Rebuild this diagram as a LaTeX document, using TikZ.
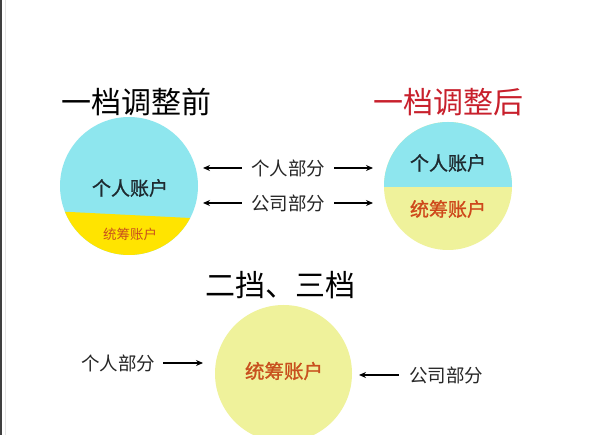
\documentclass[tikz,border=0pt]{standalone}
\usepackage{fontspec}
\setmainfont{Noto Sans CJK SC}
\newfontfamily\accfont[FakeBold=1.2]{Noto Sans CJK SC}
\usetikzlibrary{arrows.meta}
\definecolor{cyanfill}{HTML}{8EE6EE}
\definecolor{brightyel}{HTML}{FFE400}
\definecolor{paleyel}{HTML}{EFF29B}
\definecolor{titlered}{HTML}{C8202C}
\definecolor{accorange}{HTML}{C8501E}
\definecolor{darktext}{HTML}{1E2A30}
\tikzset{
  title/.style={font=\fontsize{30}{30}\selectfont, inner sep=0pt},
  label/.style={font=\fontsize{18.5}{19}\selectfont, inner sep=0pt, text=black!85},
  acc/.style={font=\accfont\fontsize{19}{19}\selectfont, inner sep=0pt},
  arr/.style={line width=1.3pt, -{Stealth[length=7pt,width=6pt]}},
}
\begin{document}
\begin{tikzpicture}[x=1pt,y=-1pt]
\useasboundingbox (0,0) rectangle (600,435);
\fill[white] (0,0) rectangle (600,435);
\fill[black!75] (0,0) rectangle (1.6,435);
\draw[black!10, line width=0.6pt] (5.5,0) -- (5.5,435);

% titles
\node[title] (t1) at (136,102) {一档调整前};
\node[title, text=titlered] (t2) at (448,102) {一档调整后};
\node[title] (t3) at (280,285) {二挡、三档};

% left circle
\fill[cyanfill] (129,186) circle (69);
\begin{scope}
  \clip (129,186) circle (69);
  \fill[brightyel] (50,211) -- (210,219) -- (210,260) -- (50,260) -- cycle;
\end{scope}
\node[acc, text=darktext] (la) at (130,188) {个人账户};
\node[font=\fontsize{13.5}{14}\selectfont, inner sep=0pt, text=accorange] (lb) at (130,234) {统筹账户};

% right circle
\fill[paleyel] (448,186) circle (64);
\begin{scope}
  \clip (448,186) circle (64);
  \fill[cyanfill] (380,115) rectangle (520,187);
\end{scope}
\node[acc, text=darktext] (ra) at (448,163) {个人账户};
\node[acc, text=accorange!90!red] (rb) at (448,209) {统筹账户};

% middle labels and arrows
\node[label] (m1) at (288,168) {个人部分};
\node[label] (m2) at (288,203) {公司部分};
\coordinate (m1l) at (203,168);
\coordinate (m1r) at (373,168);
\coordinate (m2l) at (203,203);
\coordinate (m2r) at (373,203);
\draw[arr] ([xshift=-9pt]m1.west) -- (m1l);
\draw[arr] ([xshift=9pt]m1.east) -- (m1r);
\draw[arr] ([xshift=-9pt]m2.west) -- (m2l);
\draw[arr] ([xshift=9pt]m2.east) -- (m2r);

% bottom circle
\fill[paleyel] (283.5,373.5) circle (68.5);
\node[acc, font=\accfont\fontsize{19.5}{20}\selectfont, text=accorange] (bc) at (284,371) {统筹账户};

\node[label] (b1) at (118,363) {个人部分};
\node[label] (b2) at (446,375) {公司部分};
\coordinate (b1e) at (203,363);
\coordinate (b2e) at (359,375);
\draw[arr] ([xshift=8pt]b1.east) -- (b1e);
\draw[arr] ([xshift=-10pt]b2.west) -- (b2e);
\end{tikzpicture}
\end{document}
